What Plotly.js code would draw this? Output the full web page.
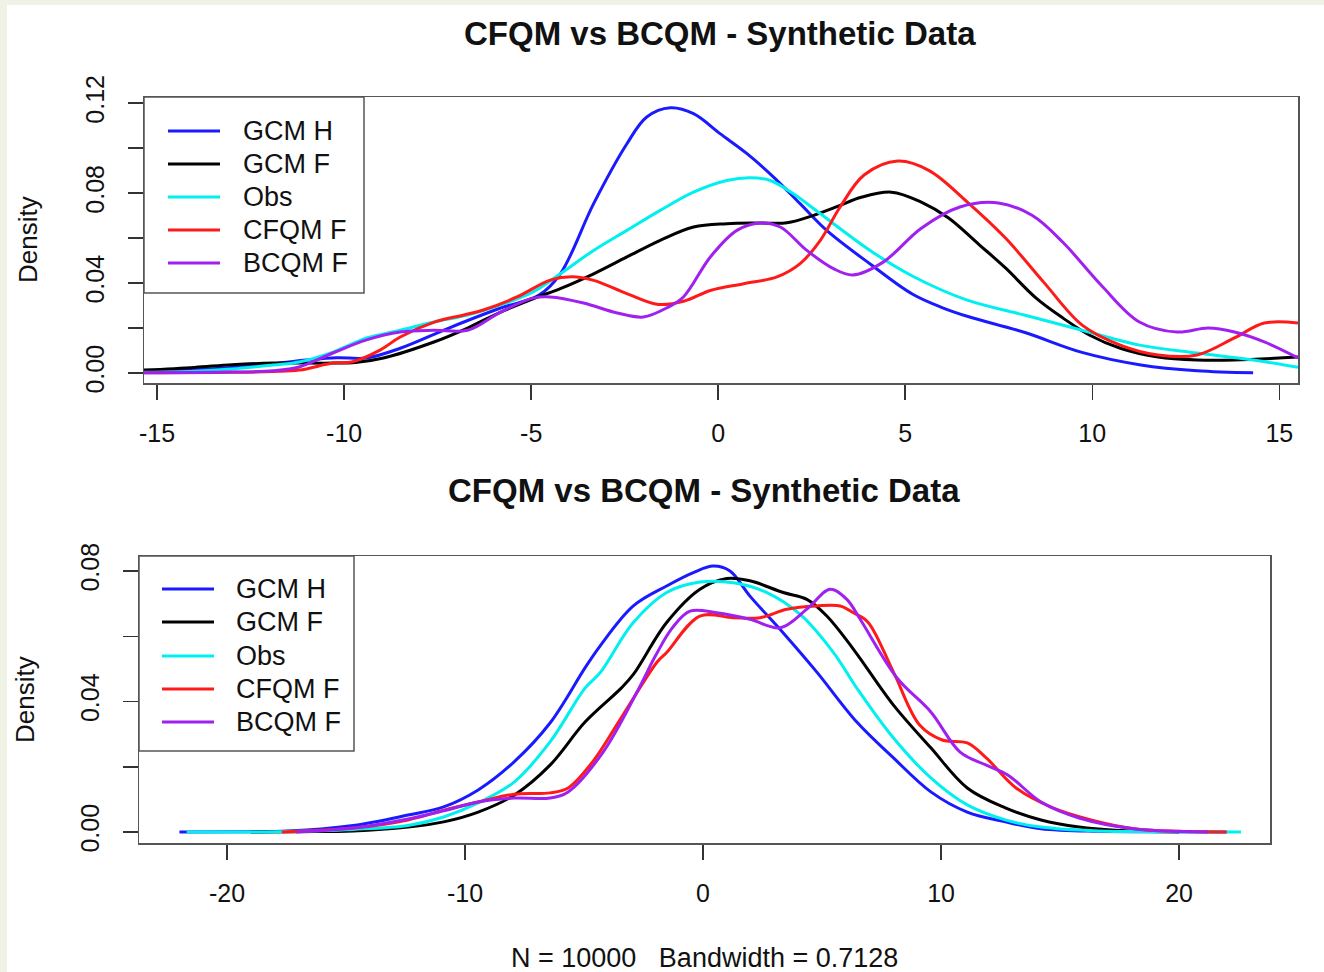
<!DOCTYPE html>
<html>
<head>
<meta charset="utf-8">
<script src="https://cdn.plot.ly/plotly-3.0.1.min.js"></script>
<style>html,body{margin:0;padding:0;background:#f1f2e6;}#chart{width:1324px;height:972px;}</style>
</head>
<body>
<div id="chart"></div>
<script>
// ---------- Data ----------
var seriesNames = ['GCM H', 'GCM F', 'Obs', 'CFQM F', 'BCQM F'];
var seriesColors = ['#1a1aff', '#000000', '#00f0f0', '#ff1a1a', '#a020f0'];

// Top panel (density curves)
var topGcmH_x = [-15.3, -14, -13, -12, -11, -10.2, -9.4, -8.5, -7.2, -5.8, -4.8, -4.22, -3.33, -2.44, -1.91, -1.28, -0.66, 0.05, 0.77, 1.48, 2.19, 2.9, 4.1, 5.2, 6.0, 6.7, 8.2, 9.7, 11.3, 12.8, 14.3];
var topGcmH_y = [0.0008, 0.0015, 0.0025, 0.004, 0.0058, 0.0068, 0.0067, 0.011, 0.020, 0.029, 0.0345, 0.0441, 0.0753, 0.1019, 0.1138, 0.1179, 0.1153, 0.1064, 0.0975, 0.0871, 0.0753, 0.0634, 0.048, 0.035, 0.029, 0.025, 0.018, 0.0093, 0.0036, 0.001, 0.0001];

var topGcmF_x = [-15.35, -14, -13, -11.9, -10.3, -9.7, -8.95, -7.6, -6.7, -5.83, -4.95, -4.22, -3.33, -2.44, -1.55, -0.66, 0.23, 1.12, 1.84, 2.55, 3.26, 3.8, 4.63, 5.43, 6.15, 6.98, 7.68, 8.5, 9.22, 9.92, 10.75, 11.76, 12.8, 13.8, 15.5];
var topGcmF_y = [0.0013, 0.0025, 0.0037, 0.0044, 0.0044, 0.0047, 0.0067, 0.0138, 0.020, 0.027, 0.033, 0.0375, 0.0441, 0.0516, 0.059, 0.0649, 0.0664, 0.0667, 0.0668, 0.0701, 0.0745, 0.078, 0.0804, 0.076, 0.069, 0.057, 0.0467, 0.0333, 0.0244, 0.0169, 0.011, 0.0071, 0.0058, 0.0058, 0.0071];

var topObs_x = [-15.35, -14, -13, -11.9, -11.2, -10.3, -9.4, -8.5, -7.6, -6.7, -5.83, -4.95, -4.22, -3.33, -2.44, -1.55, -0.66, 0.23, 0.86, 1.39, 2.01, 2.73, 4.12, 5.24, 6.66, 8.18, 9.73, 11.26, 12.8, 14.3, 15.5];
var topObs_y = [0.0003, 0.0008, 0.0018, 0.0036, 0.0049, 0.0093, 0.0156, 0.019, 0.0227, 0.0258, 0.0302, 0.036, 0.0441, 0.0545, 0.0634, 0.0723, 0.0804, 0.0856, 0.0868, 0.0856, 0.0797, 0.0708, 0.0538, 0.0427, 0.0324, 0.0258, 0.019, 0.0124, 0.0089, 0.0058, 0.0025];

var topCfqm_x = [-15.35, -13, -11.9, -11.2, -10.3, -9.8, -9.04, -8.5, -7.57, -6.8, -6.28, -5.38, -4.49, -3.9, -3.33, -2.44, -1.6, -0.9, -0.21, 0.68, 1.57, 2.19, 2.73, 3.26, 3.9, 4.8, 5.64, 6.66, 7.68, 8.7, 9.73, 10.75, 11.76, 12.8, 13.8, 14.6, 15.5];
var topCfqm_y = [0.0001, 0.0003, 0.0007, 0.0013, 0.0044, 0.0049, 0.0102, 0.016, 0.0227, 0.0258, 0.028, 0.0338, 0.0413, 0.0428, 0.0412, 0.0353, 0.0305, 0.032, 0.0367, 0.0397, 0.0427, 0.0486, 0.059, 0.0738, 0.088, 0.0942, 0.090, 0.076, 0.060, 0.0404, 0.0213, 0.0124, 0.008, 0.008, 0.0156, 0.0222, 0.0222];

var topBcqm_x = [-15.35, -13, -11.9, -11.2, -10.3, -9.4, -8.5, -7.6, -6.7, -5.83, -4.95, -4.49, -3.6, -2.7, -2.0, -1.37, -0.93, -0.21, 0.5, 1.12, 1.66, 2.37, 3.08, 3.6, 4.41, 5.43, 6.46, 7.49, 8.4, 9.22, 10.24, 11.26, 12.27, 13.1, 13.8, 14.6, 15.5];
var topBcqm_y = [0.0001, 0.0004, 0.001, 0.0027, 0.0089, 0.0147, 0.0182, 0.019, 0.019, 0.027, 0.0333, 0.0338, 0.0311, 0.0267, 0.0249, 0.029, 0.0338, 0.0516, 0.0634, 0.0667, 0.0649, 0.0545, 0.0464, 0.0436, 0.0493, 0.0644, 0.0738, 0.0756, 0.070, 0.058, 0.039, 0.0227, 0.0182, 0.020, 0.0182, 0.0138, 0.0067];

// Bottom panel (density curves)
var botGcmH_x = [-22, -19, -17.7, -14.7, -12.4, -10.9, -9.45, -7.94, -6.43, -4.96, -4.33, -2.93, -1.53, -0.41, 0.43, 1.13, 1.97, 3.37, 4.78, 6.46, 8.0, 9.57, 11.1, 12.7, 14.2, 16.6, 19, 22];
var botGcmH_y = [0, 0.0001, 0.0002, 0.002, 0.0052, 0.0077, 0.0129, 0.0215, 0.0334, 0.0503, 0.057, 0.0693, 0.0754, 0.0795, 0.0815, 0.080, 0.0723, 0.061, 0.049, 0.0337, 0.0227, 0.0123, 0.0061, 0.0031, 0.001, 0.0002, 0.0001, 0];

var botGcmF_x = [-19, -17, -14.7, -12.4, -10.9, -9.45, -7.94, -6.43, -4.96, -3.44, -2.93, -1.53, -0.13, 1.0, 1.97, 3.37, 4.36, 5.2, 6.32, 8.0, 9.57, 11.1, 12.7, 14.2, 15.8, 17.3, 20];
var botGcmF_y = [0, 0.0001, 0.0003, 0.0015, 0.0031, 0.0061, 0.0113, 0.0205, 0.0337, 0.0441, 0.0483, 0.0642, 0.0744, 0.0777, 0.077, 0.0734, 0.0713, 0.0662, 0.056, 0.0389, 0.0258, 0.0135, 0.0074, 0.0037, 0.0015, 0.0005, 0];

var botObs_x = [-21.7, -18, -14.7, -12.4, -10.9, -9.45, -7.94, -6.43, -4.96, -4.33, -2.93, -1.53, -0.13, 1.27, 2.68, 4.08, 5.48, 6.46, 8.0, 9.57, 11.1, 12.7, 14.2, 16.6, 19, 22.6];
var botObs_y = [0, 0.0001, 0.0008, 0.002, 0.0046, 0.0089, 0.0153, 0.0276, 0.0441, 0.0488, 0.0642, 0.0734, 0.0766, 0.0764, 0.0734, 0.0667, 0.055, 0.0441, 0.0288, 0.0166, 0.0083, 0.0037, 0.0015, 0.0003, 0.0001, 0];

var botCfqm_x = [-17.7, -14.7, -12.4, -10.9, -9.45, -7.94, -6.43, -5.67, -4.64, -3.44, -1.93, -1.53, -0.13, 1.27, 2.4, 3.52, 4.78, 5.76, 6.32, 6.92, 8.0, 9.1, 10.05, 11.1, 11.9, 13.15, 14.7, 16.3, 18.1, 20, 22];
var botCfqm_y = [0, 0.0012, 0.0037, 0.0067, 0.0092, 0.0116, 0.012, 0.0135, 0.0215, 0.035, 0.0521, 0.055, 0.0662, 0.0657, 0.0657, 0.0683, 0.0693, 0.0693, 0.0672, 0.0644, 0.049, 0.0328, 0.0282, 0.0273, 0.0227, 0.0135, 0.0074, 0.0037, 0.001, 0.0002, 0];

var botBcqm_x = [-17.1, -14.7, -12.4, -10.9, -9.45, -7.94, -6.43, -5.67, -4.2, -2.69, -2.0, -1.3, -0.55, 0.57, 1.97, 3.24, 4.36, 5.34, 6.04, 6.6, 8.15, 9.57, 10.8, 11.9, 12.8, 14.2, 15.8, 18.1, 21.2];
var botBcqm_y = [0, 0.0012, 0.004, 0.0065, 0.0092, 0.0104, 0.0104, 0.0123, 0.0245, 0.0441, 0.054, 0.0625, 0.0677, 0.0672, 0.0652, 0.0626, 0.0683, 0.0744, 0.0713, 0.0652, 0.0472, 0.0368, 0.0245, 0.0205, 0.0175, 0.0092, 0.0043, 0.001, 0];

var topXTicks = [-15, -10, -5, 0, 5, 10, 15];
var botXTicks = [-20, -10, 0, 10, 20];
var topYTicks = [0, 0.02, 0.04, 0.06, 0.08, 0.10, 0.12];
var topYTickText = ['0.00', '', '0.04', '', '0.08', '', '0.12'];
var botYTicks = [0, 0.02, 0.04, 0.06, 0.08];
var botYTickText = ['0.00', '', '0.04', '', '0.08'];

var titleText = 'CFQM vs BCQM - Synthetic Data';
var yTitleText = 'Density';
var bottomNote = 'N = 10000\u00a0\u00a0\u00a0Bandwidth = 0.7128';

// ---------- Build ----------
var W = 1324, H = 972;
function px(x) { return x / W; }
function py(y) { return 1 - y / H; }
var FONT = 'Liberation Sans, Arial, Helvetica, sans-serif';

var topSets = [[topGcmH_x, topGcmH_y], [topGcmF_x, topGcmF_y], [topObs_x, topObs_y], [topCfqm_x, topCfqm_y], [topBcqm_x, topBcqm_y]];
var botSets = [[botGcmH_x, botGcmH_y], [botGcmF_x, botGcmF_y], [botObs_x, botObs_y], [botCfqm_x, botCfqm_y], [botBcqm_x, botBcqm_y]];

var traces = [];
topSets.forEach(function (s, i) {
  traces.push({x: s[0], y: s[1], type: 'scatter', mode: 'lines', name: seriesNames[i], xaxis: 'x', yaxis: 'y',
    line: {color: seriesColors[i], width: 3, shape: 'spline', smoothing: 1}, showlegend: false, hoverinfo: 'x+y+name'});
});
botSets.forEach(function (s, i) {
  traces.push({x: s[0], y: s[1], type: 'scatter', mode: 'lines', name: seriesNames[i], xaxis: 'x2', yaxis: 'y2',
    line: {color: seriesColors[i], width: 3, shape: 'spline', smoothing: 1}, showlegend: false, hoverinfo: 'x+y+name'});
});

function xAxis(domain, range, ticks, anchor) {
  return {domain: domain, range: range, anchor: anchor, tickmode: 'array', tickvals: ticks,
    ticktext: ticks.map(String), ticks: 'outside', ticklen: 15, tickwidth: 1.5, tickcolor: '#333',
    showline: true, mirror: true, linecolor: '#555', linewidth: 1.5, showgrid: false, zeroline: false,
    tickfont: {family: FONT, size: 25, color: '#111'}, ticklabelstandoff: 12, fixedrange: true};
}
function yAxis(domain, range, ticks, text, anchor) {
  return {domain: domain, range: range, anchor: anchor, tickmode: 'array', tickvals: ticks, ticktext: text,
    ticks: 'outside', ticklen: 15, tickwidth: 1.5, tickcolor: '#333', tickangle: -90,
    showline: true, mirror: true, linecolor: '#555', linewidth: 1.5, showgrid: false, zeroline: false,
    tickfont: {family: FONT, size: 25, color: '#111'}, ticklabelstandoff: 14, fixedrange: true};
}

var shapes = [
  {type: 'rect', xref: 'paper', yref: 'paper', x0: px(7), x1: 1, y0: 0, y1: py(5), fillcolor: '#ffffff', line: {width: 0}, layer: 'below'}
];
var annotations = [
  {text: '<b>' + titleText + '</b>', x: px(720), y: py(33), xref: 'paper', yref: 'paper', showarrow: false, xanchor: 'center', yanchor: 'middle', font: {family: FONT, size: 33, color: '#111'}},
  {text: '<b>' + titleText + '</b>', x: px(704), y: py(491), xref: 'paper', yref: 'paper', showarrow: false, xanchor: 'center', yanchor: 'middle', font: {family: FONT, size: 33, color: '#111'}},
  {text: yTitleText, x: px(28), y: py(240), xref: 'paper', yref: 'paper', showarrow: false, textangle: -90, xanchor: 'center', yanchor: 'middle', font: {family: FONT, size: 26, color: '#111'}},
  {text: yTitleText, x: px(25), y: py(700), xref: 'paper', yref: 'paper', showarrow: false, textangle: -90, xanchor: 'center', yanchor: 'middle', font: {family: FONT, size: 26, color: '#111'}},
  {text: bottomNote, x: px(704), y: py(958), xref: 'paper', yref: 'paper', showarrow: false, xanchor: 'center', yanchor: 'middle', font: {family: FONT, size: 27, color: '#111'}}
];

// Legends (drawn as a framed key, one per panel)
function addLegend(box, lineX0, lineX1, textX, rows) {
  shapes.push({type: 'rect', xref: 'paper', yref: 'paper', x0: px(box[0]), x1: px(box[1]), y0: py(box[3]), y1: py(box[2]),
    fillcolor: 'rgba(255,255,255,0)', line: {color: '#555', width: 1.5}});
  seriesNames.forEach(function (n, i) {
    shapes.push({type: 'line', xref: 'paper', yref: 'paper', x0: px(lineX0), x1: px(lineX1), y0: py(rows[i]), y1: py(rows[i]),
      line: {color: seriesColors[i], width: 3}});
    annotations.push({text: n, x: px(textX), y: py(rows[i]), xref: 'paper', yref: 'paper', showarrow: false,
      xanchor: 'left', yanchor: 'middle', font: {family: FONT, size: 27, color: '#111'}});
  });
}
addLegend([144, 364, 97, 293], 168, 220, 241, [131, 164, 197, 230, 263]);
addLegend([139, 354, 556, 751], 162, 214, 234, [589, 622, 656, 689, 722]);

var layout = {
  width: W, height: H, autosize: false,
  margin: {l: 0, r: 0, t: 0, b: 0, pad: 0},
  paper_bgcolor: '#f1f2e6', plot_bgcolor: '#ffffff',
  font: {family: FONT, color: '#111'},
  showlegend: false,
  xaxis: xAxis([px(144), px(1298)], [-15.35, 15.5], topXTicks, 'y'),
  yaxis: yAxis([py(383), py(97)], [-0.00444, 0.1227], topYTicks, topYTickText, 'x'),
  xaxis2: xAxis([px(139), px(1270)], [-23.7, 23.82], botXTicks, 'y2'),
  yaxis2: yAxis([py(843), py(556)], [-0.00337, 0.0846], botYTicks, botYTickText, 'x2'),
  shapes: shapes,
  annotations: annotations
};

Plotly.newPlot('chart', traces, layout, {displayModeBar: false, staticPlot: true});
</script>
</body>
</html>
